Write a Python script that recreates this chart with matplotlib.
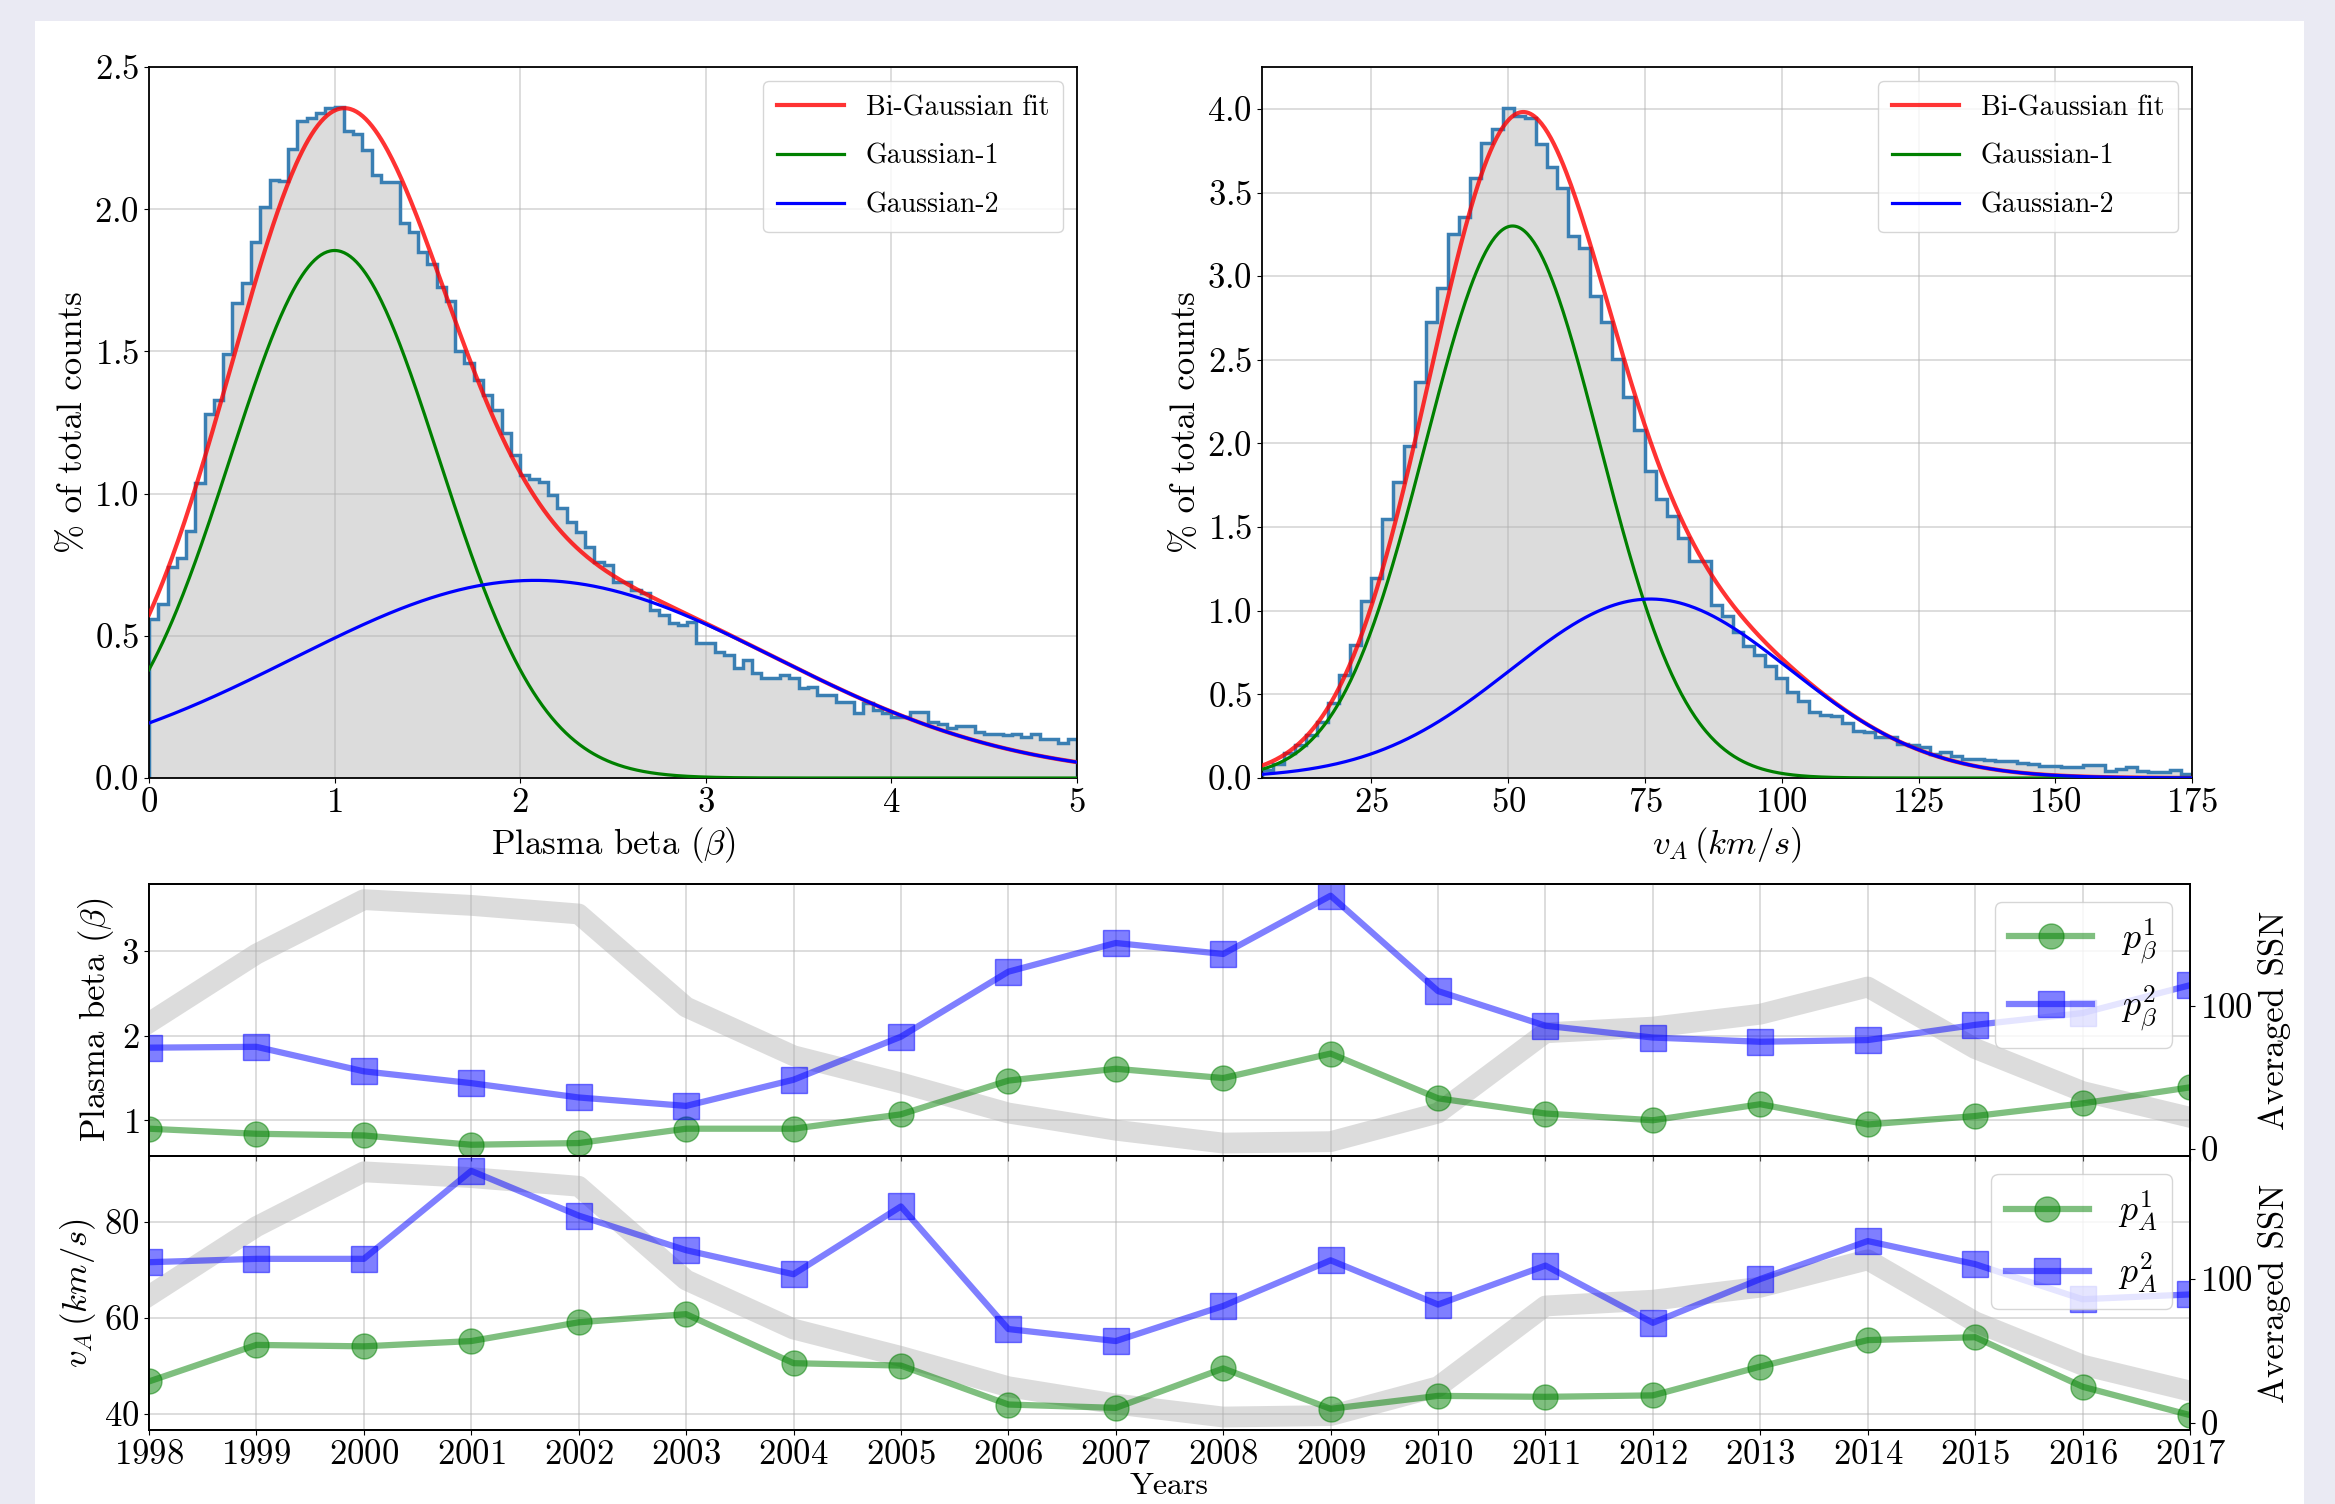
import numpy as np
import matplotlib
matplotlib.use("Agg")
import matplotlib.pyplot as plt
from matplotlib.patches import Rectangle

plt.rcParams.update({
    "font.family": "serif",
    "font.serif": ["cmr10"],
    "mathtext.fontset": "cm",
    "axes.formatter.use_mathtext": True,
    "axes.unicode_minus": False,
    "font.size": 25,
    "xtick.labelsize": 25,
    "ytick.labelsize": 25,
    "axes.linewidth": 1.3,
})

# histogram of plasma beta (% of total counts), bins of 0.05 from 0 to 5
beta_edges = np.linspace(0, 5, 101)
beta_hist = [0.558, 0.612, 0.741, 0.773, 0.870, 1.036, 1.281, 1.33, 1.49, 1.672,
             1.742, 1.884, 2.008, 2.102, 2.10, 2.213, 2.31, 2.32, 2.34, 2.355,
             2.36, 2.274, 2.263, 2.207, 2.121, 2.097, 2.097, 1.951, 1.919, 1.85,
             1.806, 1.725, 1.677, 1.50, 1.46, 1.40, 1.347, 1.294, 1.212, 1.136,
             1.065, 1.053, 1.042, 0.995, 0.948, 0.901, 0.866, 0.813, 0.761, 0.749,
             0.69, 0.69, 0.661, 0.649, 0.591, 0.573, 0.544, 0.538, 0.55, 0.474,
             0.474, 0.444, 0.432, 0.386, 0.415, 0.368, 0.35, 0.350, 0.362, 0.35,
             0.315, 0.321, 0.292, 0.292, 0.268, 0.268, 0.227, 0.264, 0.239, 0.227,
             0.216, 0.216, 0.233, 0.233, 0.198, 0.190, 0.175, 0.183, 0.183, 0.163,
             0.155, 0.155, 0.151, 0.155, 0.145, 0.155, 0.136, 0.136, 0.124, 0.136]

# histogram of Alfven speed, bins of 2 km/s from 5 to 175
va_edges = np.arange(5, 177, 2)
va_hist = [0.05, 0.085, 0.15, 0.20, 0.259, 0.336, 0.446, 0.616, 0.798, 1.056,
           1.194, 1.546, 1.772, 1.986, 2.366, 2.729, 2.927, 3.252, 3.356, 3.587,
           3.794, 3.879, 4.008, 3.96, 3.945, 3.788, 3.651, 3.527, 3.238, 3.169,
           2.880, 2.724, 2.503, 2.275, 2.083, 1.835, 1.67, 1.568, 1.436, 1.298,
           1.298, 1.037, 0.968, 0.872, 0.79, 0.735, 0.671, 0.597, 0.514, 0.459,
           0.396, 0.377, 0.369, 0.33, 0.281, 0.273, 0.243, 0.243, 0.203, 0.199,
           0.183, 0.143, 0.153, 0.133, 0.113, 0.113, 0.107, 0.103, 0.103, 0.087,
           0.083, 0.073, 0.073, 0.063, 0.063, 0.077, 0.077, 0.039, 0.053, 0.063,
           0.043, 0.033, 0.033, 0.049, 0.027]

# fitted gaussian components (amplitude, centre, width)
beta_g1 = (1.855, 1.0, 0.562)
beta_g2 = (0.695, 2.08, 1.30)
va_g1 = (3.30, 50.8, 15.9)
va_g2 = (1.07, 76.0, 25.5)

# yearly peak values
years = list(range(1998, 2018))
p_beta1 = [0.90, 0.84, 0.82, 0.71, 0.73, 0.90, 0.90, 1.07, 1.47, 1.61,
           1.50, 1.79, 1.26, 1.08, 1.00, 1.19, 0.95, 1.05, 1.20, 1.39]
p_beta2 = [1.86, 1.87, 1.58, 1.44, 1.27, 1.17, 1.48, 1.99, 2.76, 3.10,
           2.97, 3.66, 2.53, 2.12, 1.98, 1.93, 1.95, 2.13, 2.27, 2.60]
p_va1 = [46.8, 54.4, 54.1, 55.2, 59.1, 60.8, 50.6, 50.1, 42.0, 41.3,
         49.5, 41.1, 43.8, 43.6, 43.9, 49.9, 55.4, 56.0, 45.7, 39.8]
p_va2 = [71.6, 72.3, 72.3, 90.6, 81.3, 74.1, 69.1, 83.2, 57.7, 55.2,
         62.5, 72.0, 62.8, 70.9, 59.0, 68.1, 76.0, 71.2, 63.9, 64.9]
ssn = [88, 136, 174, 170, 164, 99, 65, 46, 25, 13,
       4, 5, 25, 81, 85, 94, 113, 70, 40, 22]


def gauss(x, a, mu, sig):
    return a * np.exp(-(x - mu) ** 2 / (2 * sig ** 2))


fig = plt.figure(figsize=(23.35, 15.04), dpi=100, facecolor="#eaeaf3")
fig.add_artist(Rectangle((0.015, 0), 0.9717, 0.986, transform=fig.transFigure,
                         facecolor="white", edgecolor="none", zorder=-10))


def hist_panel(ax, edges, counts, g1, g2, xlim, ylim, xlabel):
    ax.stairs(counts, edges, fill=True, color="#dcdcdc", zorder=1)
    ax.stairs(counts, edges, color="#3a7fb3", lw=2.5, zorder=2)
    x = np.linspace(xlim[0], xlim[1], 600)
    y1 = gauss(x, *g1)
    y2 = gauss(x, *g2)
    ax.plot(x, y1 + y2, color="red", alpha=0.8, lw=3, label="Bi-Gaussian fit", zorder=3)
    ax.plot(x, y1, color="green", lw=2.3, label="Gaussian-1", zorder=3)
    ax.plot(x, y2, color="blue", lw=2.3, label="Gaussian-2", zorder=3)
    ax.set_xlim(*xlim)
    ax.set_ylim(*ylim)
    ax.grid(True, color="#b0b0b0", alpha=0.5, lw=1.2)
    ax.set_xlabel(xlabel)
    ax.set_ylabel("% of total counts")
    ax.legend(loc="upper right", fontsize=20, framealpha=0.8, handlelength=2.4,
              labelspacing=0.8, borderpad=0.5)


ax1 = fig.add_axes([0.0638, 0.4827, 0.3974, 0.4727])
hist_panel(ax1, beta_edges, beta_hist, beta_g1, beta_g2, (0, 5), (0, 2.5),
           r"Plasma beta ($\beta$)")
ax1.set_yticks([0, 0.5, 1.0, 1.5, 2.0, 2.5])

ax2 = fig.add_axes([0.5405, 0.4827, 0.3983, 0.4727])
hist_panel(ax2, va_edges, va_hist, va_g1, va_g2, (5, 175), (0, 4.25),
           r"$v_A\,(km/s)$")
ax2.set_xticks([25, 50, 75, 100, 125, 150, 175])


def year_panel(ax, p1, p2, lab1, lab2, ylabel, ylim, yticks):
    tw = ax.twinx()
    tw.plot(years, ssn, color="gray", alpha=0.27, lw=15)
    tw.set_ylim(-5, 185)
    tw.set_yticks([0, 100])
    tw.set_ylabel("Averaged SSN")
    ax.set_zorder(tw.get_zorder() + 1)
    ax.patch.set_visible(False)
    ax.plot(years, p1, "-o", color="green", alpha=0.5, lw=4.5, ms=18, label=lab1)
    ax.plot(years, p2, "-s", color="blue", alpha=0.5, lw=4.5, ms=19, label=lab2)
    ax.set_ylim(*ylim)
    ax.set_yticks(yticks)
    ax.set_ylabel(ylabel)
    ax.grid(True, color="#b0b0b0", alpha=0.5, lw=1.2)
    ax.legend(loc="upper right", fontsize=26, framealpha=0.8, handlelength=2.3)


ax3 = fig.add_axes([0.0638, 0.2314, 0.8741, 0.1809])
ax4 = fig.add_axes([0.0638, 0.0492, 0.8741, 0.1822], sharex=ax3)
year_panel(ax3, p_beta1, p_beta2, r"$p_\beta^1$", r"$p_\beta^2$",
           r"Plasma beta ($\beta$)", (0.577, 3.80), [1, 2, 3])
year_panel(ax4, p_va1, p_va2, r"$p_A^1$", r"$p_A^2$",
           r"$v_A\,(km/s)$", (36.7, 93.7), [40, 60, 80])
ax3.tick_params(labelbottom=False)
ax4.set_xticks(years)
ax4.set_xlim(1998, 2017)
ax4.set_xlabel("Years", labelpad=1, fontsize=23)

fig.savefig("out.png", dpi=100, facecolor=fig.get_facecolor())
